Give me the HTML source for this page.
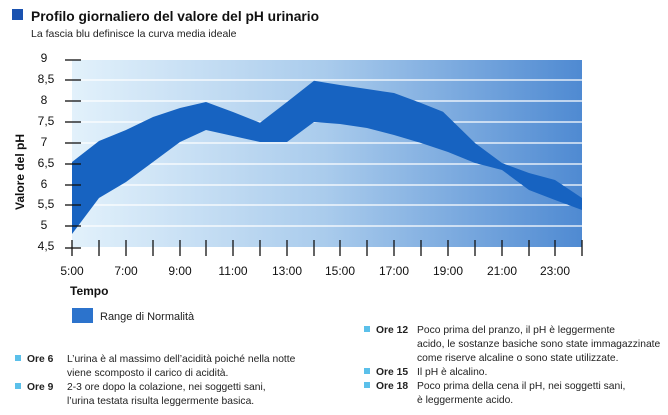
<!DOCTYPE html>
<html><head><meta charset="utf-8"><style>
body{margin:0;background:#fff;width:668px;height:415px;overflow:hidden;font-family:"Liberation Sans",sans-serif;}
svg{position:absolute;left:0;top:0}
</style></head><body>
<svg width="668" height="415" viewBox="0 0 668 415" font-family="Liberation Sans, sans-serif">
<defs>
<linearGradient id="bg" x1="0" x2="1" y1="0" y2="0">
<stop offset="0" stop-color="#e2f1fb"/>
<stop offset="0.5" stop-color="#a9cbec"/>
<stop offset="1" stop-color="#4f8ad2"/>
</linearGradient>
</defs>
<rect x="12" y="9" width="11" height="11" fill="#1a52b0"/>
<text x="31" y="21" font-size="14" font-weight="bold" fill="#111" textLength="288" lengthAdjust="spacingAndGlyphs">Profilo giornaliero del valore del pH urinario</text>
<text x="31" y="37" font-size="10.5" fill="#222">La fascia blu definisce la curva media ideale</text>
<rect x="72" y="60" width="510" height="187" fill="url(#bg)"/>
<g stroke="#fff" stroke-width="1.2">
<line x1="72" x2="582" y1="80" y2="80"/><line x1="72" x2="582" y1="101" y2="101"/>
<line x1="72" x2="582" y1="122" y2="122"/><line x1="72" x2="582" y1="143" y2="143"/>
<line x1="72" x2="582" y1="164" y2="164"/><line x1="72" x2="582" y1="185" y2="185"/>
<line x1="72" x2="582" y1="205" y2="205"/><line x1="72" x2="582" y1="226" y2="226"/>
</g>
<polygon fill="#1763c1" points="72,162 99,141 126,130 153,117 180,108 206,102 233,112 260,122.7 287,102 314,80.7 340,85 367,89 394,93 421,103 443,111.7 475,143 502,163 529,173 555,180 582,198 582,210 555,200 529,190 502,170 475,163 448,152 421,143 394,135 367,128 340,124 314,122 287,142 260,142 233,136 206,130 180,142 153,162 126,182 99,198 72,234"/>
<g stroke="#111" stroke-width="1.3">
<line x1="65" x2="81" y1="60" y2="60"/><line x1="65" x2="81" y1="80" y2="80"/>
<line x1="65" x2="81" y1="101" y2="101"/><line x1="65" x2="81" y1="122" y2="122"/>
<line x1="65" x2="81" y1="143" y2="143"/><line x1="65" x2="81" y1="164" y2="164"/>
<line x1="65" x2="81" y1="185" y2="185"/><line x1="65" x2="81" y1="205" y2="205"/>
<line x1="65" x2="81" y1="226" y2="226"/><line x1="65" x2="81" y1="248" y2="248"/>
<line x1="72" x2="72" y1="240" y2="256"/>
<line x1="99" x2="99" y1="240" y2="256"/><line x1="126" x2="126" y1="240" y2="256"/>
<line x1="153" x2="153" y1="240" y2="256"/><line x1="180" x2="180" y1="240" y2="256"/>
<line x1="206" x2="206" y1="240" y2="256"/><line x1="233" x2="233" y1="240" y2="256"/>
<line x1="260" x2="260" y1="240" y2="256"/><line x1="287" x2="287" y1="240" y2="256"/>
<line x1="314" x2="314" y1="240" y2="256"/><line x1="340" x2="340" y1="240" y2="256"/>
<line x1="367" x2="367" y1="240" y2="256"/><line x1="394" x2="394" y1="240" y2="256"/>
<line x1="421" x2="421" y1="240" y2="256"/><line x1="448" x2="448" y1="240" y2="256"/>
<line x1="475" x2="475" y1="240" y2="256"/><line x1="502" x2="502" y1="240" y2="256"/>
<line x1="529" x2="529" y1="240" y2="256"/><line x1="555" x2="555" y1="240" y2="256"/>
<line x1="582" x2="582" y1="240" y2="256"/>
</g>
<g font-size="12" fill="#111" text-anchor="middle">
<text x="44" y="62">9</text><text x="46" y="83">8,5</text><text x="44" y="104">8</text>
<text x="46" y="125">7,5</text><text x="44" y="146">7</text><text x="46" y="167">6,5</text>
<text x="44" y="188">6</text><text x="46" y="208">5,5</text><text x="44" y="229">5</text>
<text x="46" y="250">4,5</text>
<text x="72" y="275">5:00</text><text x="126" y="275">7:00</text><text x="180" y="275">9:00</text>
<text x="233" y="275">11:00</text><text x="287" y="275">13:00</text><text x="340" y="275">15:00</text>
<text x="394" y="275">17:00</text><text x="448" y="275">19:00</text><text x="502" y="275">21:00</text>
<text x="555" y="275">23:00</text>
</g>
<text x="70" y="295" font-size="12" font-weight="bold" fill="#111">Tempo</text>
<text transform="translate(24,210) rotate(-90)" font-size="12" font-weight="bold" fill="#111">Valore del pH</text>
<rect x="72" y="308" width="21" height="15" fill="#2c73cc"/>
<text x="100" y="320" font-size="11" fill="#222">Range di Normalità</text>
<g font-size="10.3" fill="#222">
<rect x="15" y="355" width="6" height="6" fill="#5bc0ea"/>
<text x="27" y="362" font-weight="bold">Ore 6</text>
<text x="67" y="362">L’urina è al massimo dell’acidità poiché nella notte</text>
<text x="67" y="376">viene scomposto il carico di acidità.</text>
<rect x="15" y="383" width="6" height="6" fill="#5bc0ea"/>
<text x="27" y="390" font-weight="bold">Ore 9</text>
<text x="67" y="390">2-3 ore dopo la colazione, nei soggetti sani,</text>
<text x="67" y="404">l’urina  testata risulta leggermente basica.</text>
<rect x="364" y="326" width="6" height="6" fill="#5bc0ea"/>
<text x="376" y="333" font-weight="bold">Ore 12</text>
<text x="417" y="333">Poco prima del pranzo, il pH è leggermente</text>
<text x="417" y="347">acido, le sostanze basiche sono state immagazzinate</text>
<text x="417" y="361">come riserve alcaline o sono  state utilizzate.</text>
<rect x="364" y="368" width="6" height="6" fill="#5bc0ea"/>
<text x="376" y="375" font-weight="bold">Ore 15</text>
<text x="417" y="375">Il pH è alcalino.</text>
<rect x="364" y="382" width="6" height="6" fill="#5bc0ea"/>
<text x="376" y="389" font-weight="bold">Ore 18</text>
<text x="417" y="389">Poco prima della cena il pH, nei soggetti sani,</text>
<text x="417" y="403">è leggermente acido.</text>
</g>
</svg>
</body></html>
